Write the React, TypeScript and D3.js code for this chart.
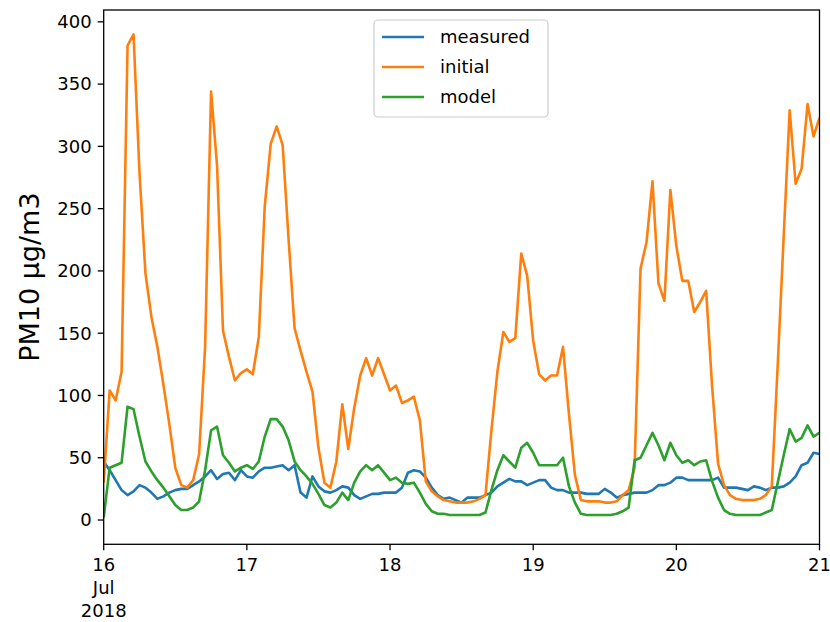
import React from "react";
import * as d3 from "d3";

// hourly PM10 values, 16 Jul 2018 00:00 .. 21 Jul 2018 00:00
const measured = [
  47, 40, 32, 24, 20, 23, 28, 26, 22, 17, 19, 22, 24, 25, 25, 28, 31, 35, 40, 33, 37, 38, 32, 40,
  35, 34, 39, 42, 42, 43, 44, 40, 44, 22, 18, 35, 27, 23, 22, 24, 27, 26, 20, 17, 19, 21, 21, 22,
  22, 22, 26, 38, 40, 39, 34, 26, 20, 17, 18, 16, 14, 18, 18, 18, 20, 22, 27, 30, 33, 31, 31, 28,
  30, 32, 32, 26, 24, 24, 22, 22, 22, 21, 21, 21, 25, 22, 18, 20, 21, 22, 22, 22, 24, 28, 28, 30,
  34, 34, 32, 32, 32, 32, 32, 34, 26, 26, 26, 25, 24, 27, 26, 24, 26, 26, 27, 30, 35, 44, 46, 54,
  53,
];
const initial = [
  30, 104, 96, 119, 381, 390, 279, 198, 163, 139, 109, 77, 42, 28, 26, 32, 53, 139, 344, 285, 152, 131, 112, 118,
  121, 117, 147, 252, 302, 316, 301, 225, 154, 136, 119, 103, 58, 30, 26, 47, 93, 57, 90, 116, 130, 116, 130, 117,
  104, 108, 94, 96, 99, 80, 31, 23, 19, 16, 15, 14, 14, 14, 15, 17, 20, 72, 119, 151, 143, 146, 214, 196,
  144, 117, 112, 116, 116, 139, 85, 36, 16, 15, 15, 15, 14, 14, 15, 20, 24, 42, 202, 223, 272, 190, 176, 265,
  220, 192, 192, 167, 175, 184, 107, 45, 28, 20, 17, 16, 16, 16, 17, 20, 27, 125, 228, 329, 270, 282, 334, 308,
  323,
];
const model = [
  2, 42, 44, 46, 91, 89, 67, 47, 39, 32, 26, 19, 12, 8, 8, 10, 15, 40, 72, 75, 52, 46, 39, 42,
  44, 41, 47, 67, 81, 81, 75, 64, 47, 40, 35, 29, 21, 12, 10, 14, 22, 16, 30, 39, 44, 40, 44, 38,
  32, 34, 30, 29, 30, 22, 13, 7, 5, 5, 4, 4, 4, 4, 4, 4, 6, 24, 40, 52, 47, 42, 58, 62,
  54, 44, 44, 44, 44, 50, 27, 14, 5, 4, 4, 4, 4, 4, 5, 7, 10, 48, 50, 60, 70, 60, 48, 62,
  52, 46, 48, 44, 47, 48, 31, 18, 8, 5, 4, 4, 4, 4, 4, 6, 8, 30, 52, 73, 63, 66, 76, 67,
  70,
];

const seriesNames = ["measured", "initial", "model"];
const seriesData = [measured, initial, model];
const seriesColors = ["#1f77b4", "#ff7f0e", "#2ca02c"];
const yTicks = [0, 50, 100, 150, 200, 250, 300, 350, 400];
const startDate = new Date(2018, 6, 16);
const dayTicks = d3.range(6).map((d) => d3.timeDay.offset(startDate, d));

const W = 830;
const H = 622;
const left = 103.7;
const right = 819.5;
const top = 10;
const bottom = 544.3;
const font = "DejaVu Sans, sans-serif";

export default function App() {
  const x = d3
    .scaleTime()
    .domain([startDate, d3.timeDay.offset(startDate, 5)])
    .range([left, right]);
  const y = d3.scaleLinear().domain([-19.5, 409.5]).range([bottom, top]);

  const line = d3
    .line<number>()
    .x((_, i) => x(d3.timeHour.offset(startDate, i)))
    .y((d) => y(d));

  return (
    <div style={{ position: "absolute", left: 0, top: 0 }}>
      <svg width={W} height={H} style={{ display: "block", background: "#fff" }} fontFamily={font}>
        <defs>
          <clipPath id="plot">
            <rect x={left} y={top} width={right - left} height={bottom - top} />
          </clipPath>
        </defs>

        {/* lines */}
        <g clipPath="url(#plot)">
          {seriesData.map((s, i) => (
            <path
              key={seriesNames[i]}
              d={line(s) || ""}
              fill="none"
              stroke={seriesColors[i]}
              strokeWidth={2.6}
              strokeLinejoin="round"
            />
          ))}
        </g>

        {/* frame */}
        <rect x={left} y={top} width={right - left} height={bottom - top} fill="none" stroke="#000" strokeWidth={1.3} />

        {/* y axis */}
        {yTicks.map((t) => (
          <g key={t} transform={`translate(0,${y(t)})`}>
            <line x1={left - 6} x2={left} stroke="#000" strokeWidth={1.3} />
            <text x={left - 12} dy="0.35em" textAnchor="end" fontSize={18} fill="#000">
              {t}
            </text>
          </g>
        ))}
        <text
          transform={`translate(39,${(top + bottom) / 2}) rotate(-90)`}
          textAnchor="middle"
          fontSize={27}
          fill="#000"
        >
          PM10 µg/m3
        </text>

        {/* x axis */}
        {dayTicks.map((d, i) => (
          <g key={i} transform={`translate(${x(d)},0)`}>
            <line y1={bottom} y2={bottom + 6} stroke="#000" strokeWidth={1.3} />
            <text y={bottom + 27} textAnchor="middle" fontSize={18} fill="#000">
              <tspan x={0}>{d3.timeFormat("%-d")(d)}</tspan>
              {i === 0 && (
                <>
                  <tspan x={0} dy={23}>{d3.timeFormat("%b")(d)}</tspan>
                  <tspan x={0} dy={23}>{d3.timeFormat("%Y")(d)}</tspan>
                </>
              )}
            </text>
          </g>
        ))}

        {/* legend */}
        <g>
          <rect x={374} y={20} width={174} height={97} rx={4} fill="#fff" fillOpacity={0.8} stroke="#cccccc" strokeWidth={1.2} />
          {seriesNames.map((n, i) => (
            <g key={n} transform={`translate(0,${37 + i * 30})`}>
              <line x1={382} x2={424} stroke={seriesColors[i]} strokeWidth={2.6} />
              <text x={440} dy="0.35em" fontSize={18} fill="#000">
                {n}
              </text>
            </g>
          ))}
        </g>
      </svg>
    </div>
  );
}
